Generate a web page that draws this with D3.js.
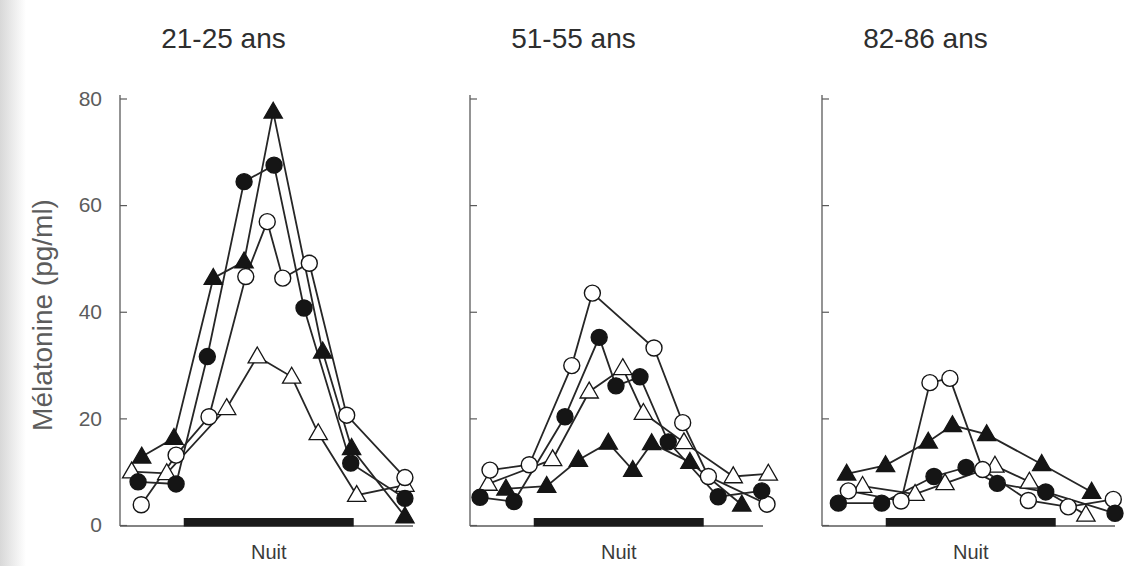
<!DOCTYPE html>
<html><head><meta charset="utf-8">
<script src="https://cdn.jsdelivr.net/npm/d3@7"></script>
<style>body{margin:0;background:#fff}svg{display:block}</style>
</head><body>
<svg id="c" width="1125" height="566"></svg>
<script>
const panelTitles = ["21-25 ans", "51-55 ans", "82-86 ans"];
const yTicks = [0, 20, 40, 60, 80];
const nightLabel = "Nuit";
const yLabel = "Mélatonine (pg/ml)";
const nightStart = 23, nightEnd = 31;

// Each series: [hour, value] pairs (hour > 24 = next morning)
const p1FilledTri = [[21.02,12.8],[22.54,16.3],[24.39,46.3],[25.84,49.4],[27.21,77.5],[29.54,32.5],[30.9,14.4],[33.41,1.6]];
const p1FilledCirc = [[20.85,8.1],[22.64,7.7],[24.11,31.6],[25.84,64.4],[27.25,67.5],[28.66,40.7],[30.86,11.6],[33.41,5.0]];
const p1OpenCirc = [[21.0,3.8],[22.64,13.1],[24.19,20.3],[25.92,46.6],[26.93,56.9],[27.66,46.3],[28.91,49.1],[30.67,20.6],[33.41,8.9]];
const p1OpenTri = [[20.55,10.0],[22.2,9.7],[25.02,21.9],[26.46,31.6],[28.08,27.8],[29.33,17.2],[31.14,5.6],[33.41,7.5]];

const p2FilledTri = [[21.69,6.8],[23.61,7.3],[25.1,12.2],[26.51,15.4],[27.66,10.3],[28.55,15.3],[30.35,11.8],[32.79,3.8]];
const p2FilledCirc = [[20.47,5.2],[22.07,4.4],[24.47,20.3],[26.08,35.2],[26.87,26.1],[28.0,27.8],[29.33,15.6],[31.68,5.3],[33.73,6.4]];
const p2OpenCirc = [[20.94,10.3],[22.79,11.3],[24.79,29.9],[25.76,43.5],[28.66,33.2],[30.01,19.2],[31.22,9.1],[33.98,3.9]];
const p2OpenTri = [[20.85,7.7],[23.89,12.3],[25.61,25.0],[27.19,29.4],[28.16,21.0],[30.07,15.5],[32.39,9.1],[34.04,9.6]];

const p3FilledTri = [[21.16,9.6],[22.99,11.2],[25.0,15.6],[26.14,18.7],[27.75,17.0],[30.34,11.4],[32.69,6.2]];
const p3FilledCirc = [[20.77,4.1],[22.81,4.1],[25.27,9.1],[26.78,10.8],[28.25,7.8],[30.53,6.2],[33.79,2.2]];
const p3OpenCirc = [[21.24,6.4],[23.72,4.5],[25.08,26.7],[26.02,27.5],[27.56,10.4],[29.71,4.6],[31.59,3.4],[33.71,4.8]];
const p3OpenTri = [[21.91,7.3],[24.38,5.8],[25.79,7.8],[28.14,11.1],[29.76,8.1],[32.42,1.9]];

const panelsData = [
  {title: panelTitles[0], series: [p1OpenTri, p1OpenCirc, p1FilledCirc, p1FilledTri]},
  {title: panelTitles[1], series: [p2OpenTri, p2OpenCirc, p2FilledCirc, p2FilledTri]},
  {title: panelTitles[2], series: [p3OpenTri, p3OpenCirc, p3FilledCirc, p3FilledTri]}
];
const seriesStyle = [
  {shape: "tri", fill: "#fff"},
  {shape: "circ", fill: "#fff"},
  {shape: "circ", fill: "#151515"},
  {shape: "tri", fill: "#151515"}
];

const svg = d3.select("#c");
// faint shaded left edge of scanned page
const defs = svg.append("defs");
const g0 = defs.append("linearGradient").attr("id","edge");
g0.append("stop").attr("offset","0%").attr("stop-color","#d8d8d8");
g0.append("stop").attr("offset","100%").attr("stop-color","#fff");
svg.append("rect").attr("x",0).attr("y",0).attr("width",26).attr("height",566).attr("fill","url(#edge)");

const panelX = [120, 470, 822];
const panelW = 293;
const y = d3.scaleLinear().domain([0, 80]).range([525, 98.5]);
const axisColor = "#5a5a5a";
const lineColor = "#262626";
const font = "Liberation Sans, Arial, sans-serif";

panelsData.forEach((p, i) => {
  const x0 = panelX[i];
  const x = d3.scaleLinear().domain([20, 33.79]).range([x0, x0 + panelW]);
  const g = svg.append("g");

  // title
  g.append("text").attr("x", x0 + 103.5).attr("y", 48).attr("text-anchor", "middle")
    .attr("font-family", font).attr("font-size", 28).attr("fill", "#2e2e2e").text(p.title);

  // y axis
  const ax = d3.axisLeft(y).tickValues(yTicks).tickSizeInner(-7).tickSizeOuter(0).tickPadding(18);
  const ag = g.append("g").attr("transform", `translate(${x0},0)`).call(ax);
  ag.select(".domain").remove();
  ag.selectAll("line").attr("stroke", axisColor).attr("stroke-width", 1.2);
  ag.selectAll("text").attr("font-family", font).attr("font-size", 21).attr("fill", "#5c5c5c")
    .style("display", i === 0 ? null : "none");
  g.append("line").attr("x1", x0).attr("x2", x0).attr("y1", 95).attr("y2", 526)
    .attr("stroke", axisColor).attr("stroke-width", 1.3);
  g.append("line").attr("x1", x0).attr("x2", x0 + panelW).attr("y1", 526).attr("y2", 526)
    .attr("stroke", axisColor).attr("stroke-width", 1.3);

  // night bar
  g.append("rect").attr("x", x(nightStart)).attr("width", x(nightEnd) - x(nightStart))
    .attr("y", 518).attr("height", 8.5).attr("fill", "#1a1a1a");
  g.append("text").attr("x", (x(nightStart) + x(nightEnd)) / 2).attr("y", 559)
    .attr("text-anchor", "middle").attr("font-family", font).attr("font-size", 20)
    .attr("fill", "#3a3a3a").text(nightLabel);

  const line = d3.line().x(d => x(d[0])).y(d => y(d[1]));
  p.series.forEach((s, k) => {
    g.append("path").datum(s).attr("d", line).attr("fill", "none")
      .attr("stroke", lineColor).attr("stroke-width", 1.8);
  });
  p.series.forEach((s, k) => {
    const st = seriesStyle[k];
    if (st.shape === "circ") {
      g.selectAll(null).data(s).enter().append("circle")
        .attr("cx", d => x(d[0])).attr("cy", d => y(d[1])).attr("r", 8)
        .attr("fill", st.fill).attr("stroke", "#151515").attr("stroke-width", 1.4);
    } else {
      const sym = d3.symbol().type(d3.symbolTriangle).size(145);
      g.selectAll(null).data(s).enter().append("path")
        .attr("d", sym).attr("transform", d => `translate(${x(d[0])},${y(d[1]) + 1})`)
        .attr("fill", st.fill).attr("stroke", "#151515").attr("stroke-width", 1.3);
    }
  });
});

// y-axis label
svg.append("text").attr("transform", "translate(52,315) rotate(-90)").attr("text-anchor", "middle")
  .attr("font-family", font).attr("font-size", 28).attr("fill", "#5c5c5c").text(yLabel);
</script>
</body></html>
